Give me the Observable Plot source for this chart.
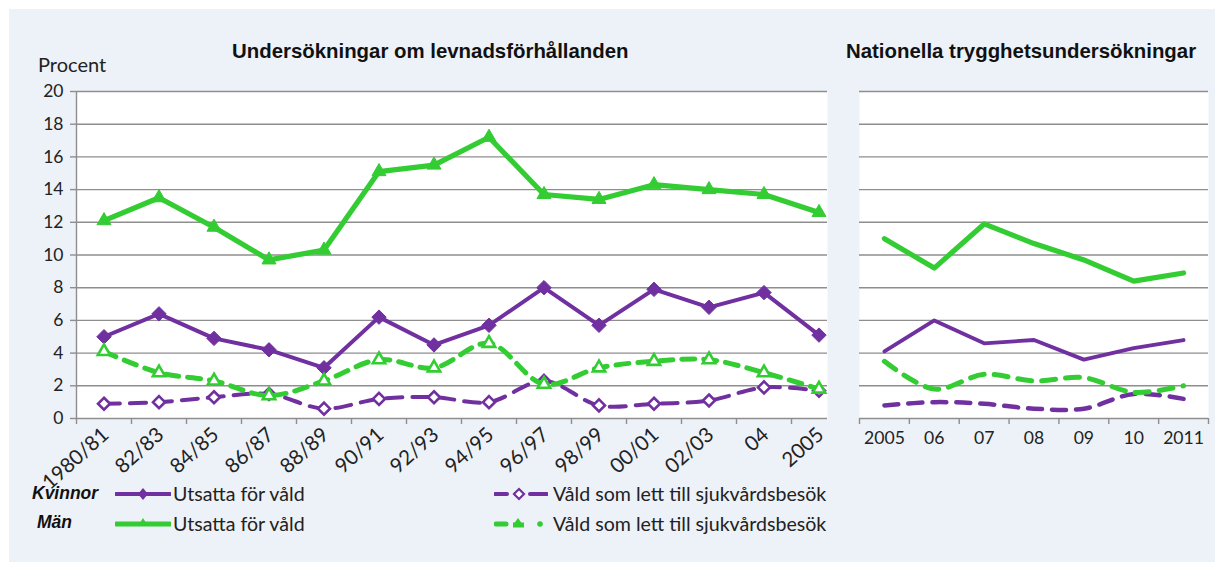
<!DOCTYPE html>
<html>
<head>
<meta charset="utf-8">
<script src="https://cdn.jsdelivr.net/npm/d3@7"></script>
<script src="https://cdn.jsdelivr.net/npm/@observablehq/plot@0.6"></script>
<style>
  html, body { margin: 0; padding: 0; background: #ffffff; }
  #root { position: relative; width: 1215px; height: 562px; overflow: hidden; background: #ffffff; }
  #bg { position: absolute; left: 9px; top: 9px; right: 0; bottom: 0; background: #edf1f8; }
  .abs { position: absolute; white-space: nowrap; }
  .title { font-family: "Liberation Sans", Arial, sans-serif; font-weight: bold; font-size: 20.4px; color: #111; }
  .lab { font-family: Lato, "Open Sans", sans-serif; font-size: 19.6px; color: #222; }
  .grp { font-family: "Liberation Sans", Arial, sans-serif; font-weight: bold; font-style: italic; font-size: 17.5px; color: #111; }
  #left, #right { position: absolute; top: 0; }
  #left { left: 0; }
  #right { left: 840px; }
</style>
</head>
<body>
<div id="root">
  <div id="bg"></div>
  <div id="left"></div>
  <div id="right"></div>
  <div class="abs title" id="t1" style="left:232px; top:40px;"></div>
  <div class="abs title" id="t2" style="left:846px; top:40px;"></div>
  <div class="abs lab" id="ylab" style="left:38px; top:52px; font-size:20px;"></div>
  <div id="legend"></div>
</div>
<script>
// ---------- Data ----------
const categoriesLeft = ["1980/81","82/83","84/85","86/87","88/89","90/91","92/93","94/95","96/97","98/99","00/01","02/03","04","2005"];
const kvinnorUtsattaLeft  = [5.0, 6.4, 4.9, 4.2, 3.1, 6.2, 4.5, 5.7, 8.0, 5.7, 7.9, 6.8, 7.7, 5.1];
const kvinnorSjukvardLeft = [0.9, 1.0, 1.3, 1.5, 0.6, 1.2, 1.3, 1.0, 2.3, 0.8, 0.9, 1.1, 1.9, 1.7];
const manUtsattaLeft      = [12.1, 13.5, 11.7, 9.7, 10.3, 15.1, 15.5, 17.2, 13.7, 13.4, 14.3, 14.0, 13.7, 12.6];
const manSjukvardLeft     = [4.1, 2.8, 2.3, 1.4, 2.3, 3.6, 3.1, 4.6, 2.1, 3.1, 3.5, 3.6, 2.8, 1.8];

const categoriesRight = ["2005","06","07","08","09","10","2011"];
const kvinnorUtsattaRight  = [4.1, 6.0, 4.6, 4.8, 3.6, 4.3, 4.8];
const kvinnorSjukvardRight = [0.8, 1.0, 0.9, 0.6, 0.6, 1.5, 1.2];
const manUtsattaRight      = [11.0, 9.2, 11.9, 10.7, 9.7, 8.4, 8.9];
const manSjukvardRight     = [3.5, 1.8, 2.7, 2.3, 2.5, 1.6, 2.0];

const yTicks = [0, 2, 4, 6, 8, 10, 12, 14, 16, 18, 20];

const titleLeft = "Undersökningar om levnadsförhållanden";
const titleRight = "Nationella trygghetsundersökningar";
const yLabel = "Procent";
const legendGroups = ["Kvinnor", "Män"];
const legendSeries = ["Utsatta för våld", "Våld som lett till sjukvårdsbesök"];

// ---------- Styles ----------
const PURPLE = "#7030a0";
const GREEN = "#33cc33";
const GRID = "#8e8e8e";
const TXT = "#222";
const FONT = "Lato, 'Open Sans', sans-serif";

function toRows(cats, vals) {
  return cats.map((c, i) => ({i, c, v: vals[i]}));
}

const L = {
  ku: toRows(categoriesLeft, kvinnorUtsattaLeft),
  ks: toRows(categoriesLeft, kvinnorSjukvardLeft),
  mu: toRows(categoriesLeft, manUtsattaLeft),
  ms: toRows(categoriesLeft, manSjukvardLeft)
};
const R = {
  ku: toRows(categoriesRight, kvinnorUtsattaRight),
  ks: toRows(categoriesRight, kvinnorSjukvardRight),
  mu: toRows(categoriesRight, manUtsattaRight),
  ms: toRows(categoriesRight, manSjukvardRight)
};
const X = d => d.i + 0.5;

// ---------- Left panel ----------
const left = Plot.plot({
  width: 840, height: 470,
  marginLeft: 76, marginRight: 13, marginTop: 91, marginBottom: 52,
  style: {background: "transparent", overflow: "visible", fontFamily: FONT},
  x: {type: "linear", domain: [0, 14], range: [76, 846], axis: null},
  y: {domain: [0, 20], axis: null},
  marks: [
    Plot.frame({fill: "white", stroke: null}),
    Plot.ruleY(yTicks, {stroke: GRID, strokeWidth: 1.4}),
    Plot.ruleX([0], {y1: 0, y2: 20, stroke: GRID, strokeWidth: 1.4}),
    Plot.axisY({ticks: yTicks, label: null, tickSize: 6, tickPadding: 7, stroke: GRID, strokeWidth: 1.4, fontSize: 17.5, color: TXT, tickFormat: d => String(d)}),
    Plot.axisX({ticks: d3.range(14), label: null, tickSize: 6, stroke: GRID, strokeWidth: 1.4, tickFormat: () => ""}),
    Plot.text(categoriesLeft, {x: (d, i) => i + 0.5, frameAnchor: "bottom", text: d => d, rotate: -42, textAnchor: "end", dx: 6, dy: 18, fontSize: 20.5, fill: TXT}),
    // Kvinnor utsatta
    Plot.line(L.ku, {x: X, y: "v", stroke: PURPLE, strokeWidth: 4}),
    Plot.dot(L.ku, {x: X, y: "v", symbol: "diamond2", r: 6.5, fill: PURPLE, stroke: PURPLE, strokeWidth: 1}),
    // Kvinnor sjukvård
    Plot.line(L.ks, {x: X, y: "v", stroke: PURPLE, strokeWidth: 4, strokeDasharray: "16,10", curve: "catmull-rom"}),
    Plot.dot(L.ks, {x: X, y: "v", symbol: "diamond2", r: 5.4, fill: "white", stroke: PURPLE, strokeWidth: 2.6}),
    // Män utsatta
    Plot.line(L.mu, {x: X, y: "v", stroke: GREEN, strokeWidth: 5.2}),
    Plot.dot(L.mu, {x: X, y: "v", symbol: "triangle", r: 5.2, fill: GREEN, stroke: GREEN, strokeWidth: 1}),
    // Män sjukvård
    Plot.line(L.ms, {x: X, y: "v", stroke: GREEN, strokeWidth: 5, strokeDasharray: "13,9", curve: "catmull-rom"}),
    Plot.dot(L.ms, {x: X, y: "v", symbol: "triangle", r: 4.6, fill: "white", stroke: GREEN, strokeWidth: 2.6})
  ]
});
document.getElementById("left").appendChild(left);

// ---------- Right panel ----------
const right = Plot.plot({
  width: 375, height: 470,
  marginLeft: 19, marginRight: 7, marginTop: 91, marginBottom: 52,
  style: {background: "transparent", overflow: "visible", fontFamily: FONT},
  x: {type: "linear", domain: [0, 7], axis: null},
  y: {domain: [0, 20], axis: null},
  marks: [
    Plot.frame({fill: "white", stroke: null}),
    Plot.ruleY(yTicks, {stroke: GRID, strokeWidth: 1.4}),
    Plot.axisX({ticks: d3.range(8), label: null, tickSize: 6, stroke: GRID, strokeWidth: 1.4, tickFormat: () => ""}),
    Plot.text(categoriesRight, {x: (d, i) => i + 0.5, frameAnchor: "bottom", text: d => d, dy: 25, fontSize: 17.6, fill: TXT}),
    Plot.line(R.ku, {x: X, y: "v", stroke: PURPLE, strokeWidth: 3.8}),
    Plot.line(R.ks, {x: X, y: "v", stroke: PURPLE, strokeWidth: 4.5, strokeDasharray: "14,10", curve: "catmull-rom"}),
    Plot.line(R.mu, {x: X, y: "v", stroke: GREEN, strokeWidth: 5.2}),
    Plot.line(R.ms, {x: X, y: "v", stroke: GREEN, strokeWidth: 5, strokeDasharray: "14,10", curve: "catmull-rom"})
  ]
});
document.getElementById("right").appendChild(right);

document.getElementById("t1").textContent = titleLeft;
document.getElementById("t2").textContent = titleRight;
document.getElementById("ylab").textContent = yLabel;

// ---------- Legend ----------
const legend = document.getElementById("legend");
function addDiv(cls, text, x, y) {
  const d = document.createElement("div");
  d.className = "abs " + cls;
  d.style.left = x + "px"; d.style.top = y + "px";
  d.textContent = text;
  legend.appendChild(d);
}
const NS = "http://www.w3.org/2000/svg";
function swatch(x, y, w, build) {
  const s = document.createElementNS(NS, "svg");
  s.setAttribute("width", w); s.setAttribute("height", 20);
  s.style.position = "absolute"; s.style.left = x + "px"; s.style.top = (y - 10) + "px";
  s.innerHTML = build;
  legend.appendChild(s);
}
const rowY = [494, 524];
addDiv("grp", legendGroups[0], 32, rowY[0] - 11);
addDiv("grp", legendGroups[1], 37, rowY[1] - 12);
addDiv("lab", legendSeries[0], 173, rowY[0] - 12);
addDiv("lab", legendSeries[0], 173, rowY[1] - 12);
addDiv("lab", legendSeries[1], 553, rowY[0] - 12);
addDiv("lab", legendSeries[1], 553, rowY[1] - 12);
// Kvinnor utsatta swatch
swatch(115, rowY[0], 56, `<line x1="1" y1="10" x2="55" y2="10" stroke="${PURPLE}" stroke-width="4" stroke-linecap="round"/><path d="M28,4 L33,10 L28,16 L23,10Z" fill="${PURPLE}"/>`);
// Män utsatta swatch
swatch(115, rowY[1], 56, `<line x1="1" y1="10" x2="55" y2="10" stroke="${GREEN}" stroke-width="5" stroke-linecap="round"/><path d="M28,4 L33,12 L23,12Z" fill="${GREEN}"/>`);
// Kvinnor sjukvård swatch
swatch(494, rowY[0], 54, `<line x1="1" y1="10" x2="13" y2="10" stroke="${PURPLE}" stroke-width="4" stroke-linecap="round"/><line x1="36" y1="10" x2="53" y2="10" stroke="${PURPLE}" stroke-width="4" stroke-linecap="round"/><line x1="20" y1="10" x2="29" y2="10" stroke="${PURPLE}" stroke-width="4"/><path d="M25,5 L30,10 L25,15 L20,10Z" fill="white" stroke="${PURPLE}" stroke-width="2.2"/>`);
// Män sjukvård swatch
swatch(494, rowY[1], 54, `<line x1="2" y1="10" x2="12" y2="10" stroke="${GREEN}" stroke-width="5" stroke-linecap="round"/><line x1="19" y1="11" x2="30" y2="11" stroke="${GREEN}" stroke-width="5"/><path d="M24,4 L29,11 L19,11Z" fill="${GREEN}"/><circle cx="46" cy="10" r="2.8" fill="${GREEN}"/>`);
</script>
</body>
</html>
